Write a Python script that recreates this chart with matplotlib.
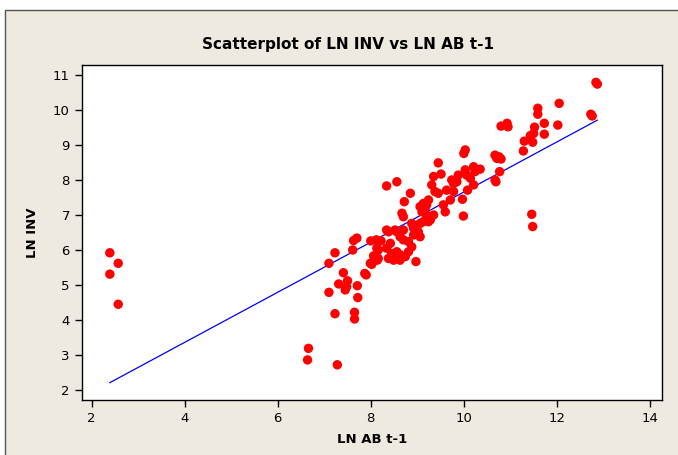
# Scatterplot of LN INV vs LN AB t-1 (Minitab style)
import numpy as np
import matplotlib
matplotlib.use("Agg")
import matplotlib.pyplot as plt
from matplotlib.patches import Rectangle

# data
ln_ab = [2.39, 2.39, 2.57, 2.57,
         6.66, 6.64, 7.28,
         7.23, 7.65, 7.65, 7.10, 7.72, 7.71, 7.31, 7.45, 7.48, 7.50, 7.41, 7.87, 7.90,
         7.10, 7.23, 7.61, 7.63, 7.70,
         7.99, 8.06, 8.14, 8.16, 8.00, 8.12, 8.22, 8.34, 8.38, 8.34,
         8.38, 8.13, 8.16, 8.02, 8.88, 8.92, 9.02, 9.06, 9.13, 8.56, 8.63, 8.70, 8.81, 8.88,
         8.42, 8.45, 8.56, 8.63, 8.49, 8.63, 8.74, 8.81, 8.97, 8.67, 8.70, 9.06, 9.13,
         8.34, 8.56, 8.85, 8.72, 9.24, 9.20, 9.10, 9.20, 9.24, 8.92, 9.06, 8.52, 8.70,
         10.03, 10.00, 10.67, 10.71, 10.76, 10.80, 10.77, 10.67, 10.69,
         9.45, 9.35, 9.31, 9.51, 9.38, 9.45, 9.63, 9.74, 9.78, 9.88, 9.85,
         10.03, 10.06, 10.21, 10.24, 10.35, 10.14, 10.21, 10.08, 9.78, 9.71, 9.97, 9.99,
         9.56, 9.60, 9.35, 9.17, 9.28,
         12.84, 12.87, 12.73, 12.76, 12.05, 12.02, 11.59, 11.59, 11.73, 11.73, 11.52,
         11.50, 11.43, 11.48, 11.30, 11.28, 10.80, 10.93, 10.95, 11.46, 11.48]
ln_inv = [5.92, 5.31, 5.62, 4.45,
          3.19, 2.86, 2.72,
          4.18, 4.22, 4.03, 4.79, 4.64, 4.98, 5.03, 4.86, 4.95, 5.12, 5.35, 5.33, 5.29,
          5.62, 5.92, 6.00, 6.27, 6.34,
          5.62, 5.83, 5.71, 6.00, 6.26, 6.29, 6.26, 6.05, 5.76, 6.57,
          6.52, 6.05, 5.76, 5.59, 6.76, 6.62, 6.52, 6.76, 6.81, 6.52, 6.38, 6.29, 6.24, 6.09,
          6.19, 5.90, 5.95, 5.86, 5.71, 5.71, 5.81, 5.95, 5.67, 7.05, 6.95, 7.24, 7.33,
          7.83, 7.95, 7.62, 7.38, 7.43, 7.29, 7.09, 7.00, 6.81, 6.43, 6.38, 6.57, 6.57,
          8.86, 8.76, 8.71, 8.62, 8.66, 8.60, 8.24, 8.00, 7.95,
          8.49, 8.10, 7.86, 8.17, 7.67, 7.62, 7.71, 8.00, 7.90, 8.14, 7.95,
          8.29, 8.14, 8.38, 8.24, 8.31, 8.05, 7.86, 7.71, 7.67, 7.43, 7.45, 6.97,
          7.29, 7.09, 7.00, 7.19, 6.86,
          10.79, 10.74, 9.88, 9.83, 10.19, 9.57, 10.05, 9.88, 9.62, 9.31, 9.51,
          9.33, 9.27, 9.08, 9.11, 8.83, 9.54, 9.62, 9.52, 7.02, 6.67]

# fitted line  LN INV = b0 + b1 * LN AB t-1
b0 = 0.499
b1 = 0.7157

x_ticks = [2, 4, 6, 8, 10, 12, 14]
y_ticks = [2, 3, 4, 5, 6, 7, 8, 9, 10, 11]

W, H = 678, 455
fig = plt.figure(figsize=(W / 100, H / 100), dpi=100)
fig.patch.set_facecolor("white")
bg = Rectangle((5 / W, -0.02), 1.1, 1 - 10 / H + 0.02, transform=fig.transFigure,
               facecolor="#EEEAE0", edgecolor="#555555", linewidth=1.0, zorder=-10)
fig.patches.append(bg)

ax = fig.add_axes([81.7 / W, 1 - 400 / H, (662 - 81.7) / W, (400 - 65) / H])
ax.set_zorder(5)
ax.set_facecolor("white")

ax.scatter(ln_ab, ln_inv, s=46, color="#FF0000", edgecolors="none", zorder=3)
xs = np.array([min(ln_ab), max(ln_ab)])
ax.plot(xs, b0 + b1 * xs, color="#0000FF", linewidth=0.9, zorder=2)

ax.set_xlim(1.785, 14.26)
ax.set_ylim(1.714, 11.286)
ax.set_xticks(x_ticks)
ax.set_yticks(y_ticks)
ax.tick_params(direction="out", length=5, width=1, labelsize=9.5, colors="black")
for s in ax.spines.values():
    s.set_linewidth(1.0)
    s.set_color("black")

ax.set_xlabel("LN AB t-1", fontsize=9.5, fontweight="bold", labelpad=6)
ax.set_ylabel("LN INV", fontsize=9.5, fontweight="bold", labelpad=10)
fig.text(348 / W, 1 - 45 / H, "Scatterplot of LN INV vs LN AB t-1",
         fontsize=11, fontweight="bold", ha="center", va="center")

fig.savefig("out.png", dpi=100, facecolor=fig.get_facecolor())
